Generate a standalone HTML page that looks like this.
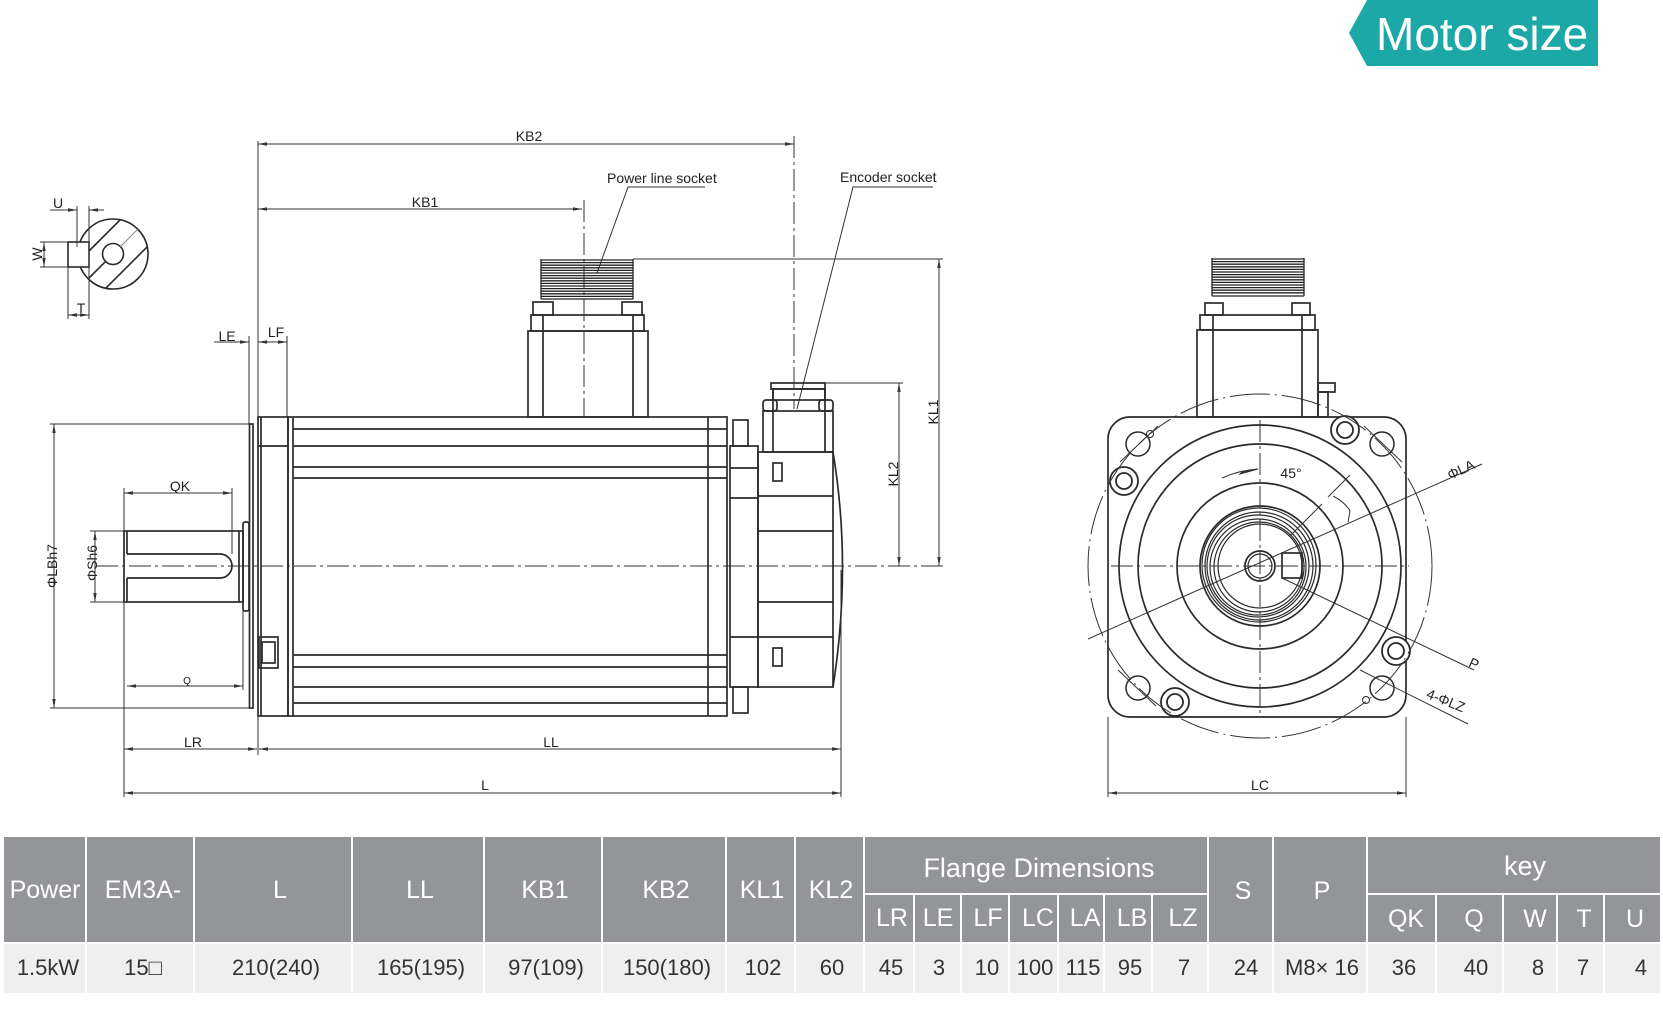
<!DOCTYPE html>
<html><head><meta charset="utf-8"><style>
html,body{margin:0;padding:0;background:#fff;}
svg{display:block;}
</style></head><body>
<svg width="1663" height="1010" viewBox="0 0 1663 1010" xmlns="http://www.w3.org/2000/svg" font-family="Liberation Sans, Arial, sans-serif">
<defs>
<marker id="a" markerWidth="9" markerHeight="6" refX="9" refY="3" orient="auto-start-reverse" markerUnits="userSpaceOnUse"><path d="M0,1.3 L9,3 L0,4.7 Z" fill="#333"/></marker>
</defs>

<!-- Title tag -->
<polygon points="1367,0 1598,0 1598,66 1367,66 1349,33" fill="#1ba8a6"/>
<text x="1376" y="50" font-size="46" fill="#fff">Motor size</text>

<!-- ============ KEY SECTION DETAIL ============ -->
<g stroke="#2a2a2a" fill="none" stroke-width="1.6">
  <circle cx="113" cy="254" r="35"/>
  <circle cx="113" cy="254" r="10.5"/>
  <rect x="68" y="242" width="21" height="25" fill="#fff"/>
  <line x1="89" y1="251" x2="120.2" y2="219.8"/>
  <line x1="89" y1="278" x2="105.6" y2="261.4"/>
  <line x1="120.4" y1="246.6" x2="137.7" y2="229.3" stroke="#888" stroke-width="1"/>
  <line x1="105.7" y1="288.3" x2="147.2" y2="246.8"/>
</g>
<g stroke="#333" stroke-width="1" fill="none">
  <line x1="77" y1="206" x2="77" y2="247"/>
  <line x1="89" y1="206" x2="89" y2="319"/>
  <line x1="68" y1="267" x2="68" y2="319"/>
  <line x1="50" y1="210" x2="77" y2="210" marker-end="url(#a)"/>
  <line x1="104" y1="210" x2="89" y2="210" marker-end="url(#a)"/>
  <line x1="40" y1="242" x2="68" y2="242"/>
  <line x1="40" y1="267" x2="68" y2="267"/>
  <line x1="44" y1="242" x2="44" y2="267" marker-start="url(#a)" marker-end="url(#a)"/>
  <line x1="68" y1="315" x2="89" y2="315" marker-start="url(#a)" marker-end="url(#a)"/>
</g>
<g font-size="14" fill="#222">
  <text x="58" y="208" text-anchor="middle">U</text>
  <text x="81" y="313" text-anchor="middle">T</text>
  <text transform="translate(42,254) rotate(-90)" text-anchor="middle">W</text>
</g>

<!-- ============ SIDE VIEW ============ -->
<!-- dimension / extension lines -->
<g stroke="#333" stroke-width="1" fill="none">
  <line x1="258" y1="141" x2="258" y2="755"/>
  <line x1="258" y1="144" x2="794" y2="144" marker-start="url(#a)" marker-end="url(#a)"/>
  <line x1="258" y1="209" x2="582" y2="209" marker-start="url(#a)" marker-end="url(#a)"/>
  <line x1="794" y1="136" x2="794" y2="409" stroke-dasharray="22 4 3 4"/>
  <line x1="584" y1="200" x2="584" y2="417" stroke-dasharray="22 4 3 4"/>
  <!-- LE LF -->
  <line x1="249" y1="336" x2="249" y2="424"/>
  <line x1="287" y1="336" x2="287" y2="417"/>
  <line x1="214" y1="342" x2="249" y2="342" marker-end="url(#a)"/>
  <line x1="258" y1="342" x2="287" y2="342" marker-start="url(#a)" marker-end="url(#a)"/>
  <!-- LB -->
  <line x1="50" y1="424" x2="250" y2="424"/>
  <line x1="50" y1="708" x2="250" y2="708"/>
  <line x1="54" y1="424" x2="54" y2="708" marker-start="url(#a)" marker-end="url(#a)"/>
  <!-- Sh6 -->
  <line x1="90" y1="531" x2="124" y2="531"/>
  <line x1="90" y1="602" x2="124" y2="602"/>
  <line x1="95" y1="531" x2="95" y2="602" marker-start="url(#a)" marker-end="url(#a)"/>
  <!-- QK -->
  <line x1="124" y1="488" x2="124" y2="797"/>
  <line x1="232" y1="488" x2="232" y2="554"/>
  <line x1="124" y1="493" x2="232" y2="493" marker-start="url(#a)" marker-end="url(#a)"/>
  <!-- Q -->
  <line x1="243" y1="602" x2="243" y2="690"/>
  <line x1="127" y1="686" x2="243" y2="686" marker-start="url(#a)" marker-end="url(#a)"/>
  <!-- LR LL L -->
  <line x1="124" y1="749" x2="257" y2="749" marker-start="url(#a)" marker-end="url(#a)"/>
  <line x1="259" y1="749" x2="841" y2="749" marker-start="url(#a)" marker-end="url(#a)"/>
  <line x1="124" y1="793" x2="841" y2="793" marker-start="url(#a)" marker-end="url(#a)"/>
  <line x1="841" y1="570" x2="841" y2="797"/>
  <!-- KL1 KL2 -->
  <line x1="633" y1="259" x2="943" y2="259"/>
  <line x1="939" y1="259" x2="939" y2="566" marker-start="url(#a)" marker-end="url(#a)"/>
  <line x1="825" y1="383" x2="903" y2="383"/>
  <line x1="899" y1="383" x2="899" y2="566" marker-start="url(#a)" marker-end="url(#a)"/>
  <!-- centerline -->
  <line x1="96" y1="566" x2="945" y2="566" stroke-dasharray="22 4 3 4"/>
  <!-- leaders -->
  <polyline points="705,187 628,187 597,273"/>
  <polyline points="933,187 853,187 797,409"/>
</g>

<!-- outlines -->
<g stroke="#2a2a2a" stroke-width="1.7" fill="none">
  <!-- thin plate -->
  <rect x="249.5" y="424" width="3.5" height="284"/>
  <!-- flange -->
  <rect x="258" y="417" width="30" height="299"/>
  <line x1="261" y1="417" x2="261" y2="716"/>
  <line x1="258" y1="446" x2="288" y2="446"/>
  <rect x="259" y="637" width="19" height="31"/>
  <rect x="262" y="642" width="13" height="21"/>
  <!-- body -->
  <rect x="288" y="417" width="439" height="299"/>
  <line x1="293" y1="417" x2="293" y2="716"/>
  <line x1="708" y1="417" x2="708" y2="716"/>
  <line x1="293" y1="429" x2="727" y2="429"/>
  <line x1="293" y1="446" x2="727" y2="446"/>
  <line x1="293" y1="467" x2="727" y2="467"/>
  <line x1="293" y1="478" x2="727" y2="478"/>
  <line x1="293" y1="655" x2="727" y2="655"/>
  <line x1="293" y1="667" x2="727" y2="667"/>
  <line x1="293" y1="687" x2="727" y2="687"/>
  <line x1="293" y1="703" x2="727" y2="703"/>
  <!-- shaft -->
  <rect x="124" y="531" width="119" height="71"/>
  <line x1="127" y1="531" x2="127" y2="554"/>
  <line x1="127" y1="578" x2="127" y2="602"/>
  <path d="M127,554 H220 A12,12 0 0 1 220,578 H127"/>
  <line x1="239" y1="531" x2="239" y2="602"/>
  <rect x="243" y="522" width="6" height="89" rx="2"/>
  <!-- power connector -->
  <rect x="528" y="331" width="120" height="86"/>
  <line x1="543" y1="315" x2="543" y2="417"/>
  <line x1="633" y1="315" x2="633" y2="417"/>
  <rect x="531" y="315" width="113" height="16"/>
  <rect x="533" y="302" width="20" height="13"/>
  <rect x="622" y="302" width="20" height="13"/>
  <!-- rear cover -->
  <rect x="730" y="446" width="28" height="241"/>
  <rect x="733" y="420" width="15" height="26"/>
  <rect x="733" y="687" width="15" height="26"/>
  <line x1="730" y1="468" x2="758" y2="468"/>
  <line x1="730" y1="498" x2="758" y2="498"/>
  <line x1="730" y1="637" x2="758" y2="637"/>
  <!-- encoder -->
  <rect x="758" y="452" width="75" height="235"/>
  <path d="M833,452 Q852,566 833,687"/>
  <line x1="758" y1="496" x2="833" y2="496"/>
  <line x1="758" y1="531" x2="833" y2="531"/>
  <line x1="758" y1="602" x2="833" y2="602"/>
  <line x1="758" y1="637" x2="833" y2="637"/>
  <rect x="773" y="463" width="9" height="18"/>
  <rect x="773" y="648" width="9" height="18"/>
  <rect x="763" y="411" width="70" height="41"/>
  <line x1="773" y1="389" x2="773" y2="452"/>
  <line x1="825" y1="389" x2="825" y2="452"/>
  <rect x="773" y="389" width="52" height="11"/>
  <rect x="771" y="383" width="54" height="6"/>
  <rect x="763" y="400" width="14" height="11" rx="3"/>
  <rect x="819" y="400" width="14" height="11" rx="3"/>
</g>
<!-- thread -->
<g stroke="#222" stroke-width="1.3">
  <line x1="541" y1="260" x2="633" y2="260"/><line x1="541" y1="262.6" x2="633" y2="262.6"/>
  <line x1="541" y1="265.2" x2="633" y2="265.2"/><line x1="541" y1="267.8" x2="633" y2="267.8"/>
  <line x1="541" y1="270.4" x2="633" y2="270.4"/><line x1="541" y1="273" x2="633" y2="273"/>
  <line x1="541" y1="275.6" x2="633" y2="275.6"/><line x1="541" y1="278.2" x2="633" y2="278.2"/>
  <line x1="541" y1="280.8" x2="633" y2="280.8"/><line x1="541" y1="283.4" x2="633" y2="283.4"/>
  <line x1="541" y1="286" x2="633" y2="286"/><line x1="541" y1="288.6" x2="633" y2="288.6"/>
  <line x1="541" y1="291.2" x2="633" y2="291.2"/><line x1="541" y1="293.8" x2="633" y2="293.8"/>
  <line x1="541" y1="296.4" x2="633" y2="296.4"/><line x1="541" y1="299" x2="633" y2="299"/>
  <line x1="541" y1="259" x2="541" y2="299"/><line x1="633" y1="259" x2="633" y2="299"/>
</g>

<g font-size="14" fill="#222">
  <text x="529" y="141" text-anchor="middle">KB2</text>
  <text x="425" y="207" text-anchor="middle">KB1</text>
  <text x="227" y="341" text-anchor="middle">LE</text>
  <text x="276" y="337" text-anchor="middle">LF</text>
  <text x="180" y="491" text-anchor="middle">QK</text>
  <text x="187" y="684" text-anchor="middle" font-size="10">Q</text>
  <text x="193" y="747" text-anchor="middle">LR</text>
  <text x="551" y="747" text-anchor="middle">LL</text>
  <text x="485" y="790" text-anchor="middle">L</text>
  <text x="607" y="183">Power line socket</text>
  <text x="840" y="182">Encoder socket</text>
  <text transform="translate(938,412) rotate(-90)" text-anchor="middle">KL1</text>
  <text transform="translate(898,474) rotate(-90)" text-anchor="middle">KL2</text>
  <text transform="translate(57,566) rotate(-90)" text-anchor="middle">ΦLBh7</text>
  <text transform="translate(97,563) rotate(-90)" text-anchor="middle">ΦSh6</text>
</g>

<!-- ============ END VIEW ============ -->
<g stroke="#2a2a2a" stroke-width="1.7" fill="none">
  <!-- connector -->
  <rect x="1197" y="330" width="121" height="87"/>
  <line x1="1213" y1="315" x2="1213" y2="417"/>
  <line x1="1302" y1="315" x2="1302" y2="417"/>
  <rect x="1200" y="315" width="115" height="15"/>
  <rect x="1205" y="303" width="18" height="12"/>
  <rect x="1292" y="303" width="18" height="12"/>
  <rect x="1318" y="383" width="17" height="9"/>
  <rect x="1318" y="392" width="10" height="25"/>
  <!-- flange square -->
  <rect x="1108" y="417" width="298" height="300" rx="22"/>
  <circle cx="1260" cy="566" r="141"/>
  <circle cx="1260" cy="566" r="122"/>
  <circle cx="1260" cy="566" r="83"/>
  <circle cx="1260" cy="566" r="60"/>
  <circle cx="1260" cy="566" r="15"/>
  <rect x="1282" y="553" width="20" height="25"/>
</g>
<g stroke="#2a2a2a" stroke-width="1.2" fill="none">
  <circle cx="1259" cy="565" r="57"/>
  <circle cx="1259" cy="566" r="54"/>
  <circle cx="1258" cy="566" r="51"/>
  <circle cx="1258" cy="567" r="48"/>
  <circle cx="1259" cy="567" r="45"/>
  <circle cx="1260" cy="566" r="42"/>
  <circle cx="1260" cy="566" r="12"/>
</g>
<g stroke="#2a2a2a" stroke-width="1.8" fill="#fff">
  <!-- screws -->
  <circle cx="1396" cy="651" r="14"/><circle cx="1396" cy="651" r="8"/>
  <circle cx="1175" cy="702" r="14"/><circle cx="1175" cy="702" r="8"/>
  <circle cx="1124" cy="481" r="14"/><circle cx="1124" cy="481" r="8"/>
  <circle cx="1345" cy="430" r="14"/><circle cx="1345" cy="430" r="8"/>
</g>
<g stroke="#2a2a2a" stroke-width="1.5" fill="none">
  <!-- bolt holes -->
  <circle cx="1138" cy="444" r="12"/>
  <circle cx="1382" cy="444" r="12"/>
  <circle cx="1138" cy="688" r="12"/>
  <circle cx="1382" cy="688" r="12"/>
  <circle cx="1150" cy="434" r="3.5" stroke-width="1"/>
  <circle cx="1366" cy="700" r="3.5" stroke-width="1"/>
</g>
<g stroke="#333" stroke-width="1" fill="none">
  <circle cx="1260" cy="566" r="172" stroke-dasharray="40 5 2 5"/>
  <line x1="1111" y1="566" x2="1409" y2="566" stroke-dasharray="22 4 3 4"/>
  <line x1="1260" y1="420" x2="1260" y2="716" stroke-dasharray="22 4 3 4"/>
  <line x1="1120" y1="462" x2="1158" y2="426"/>
  <line x1="1364" y1="426" x2="1402" y2="462"/>
  <line x1="1118" y1="670" x2="1156" y2="706"/>
  <!-- ΦLA leader -->
  <line x1="1088" y1="639" x2="1482" y2="464"/>
  <!-- P leader -->
  <line x1="1282" y1="578" x2="1474" y2="670"/>
  <!-- 4-ΦLZ leader -->
  <line x1="1360" y1="670" x2="1468" y2="724"/>
  <!-- 45 deg markers -->
  <path d="M1222,478 Q1240,470 1258,469"/>
  <path d="M1240,474 L1258,469 L1242,472 Z" fill="#333"/>
  <line x1="1290" y1="536" x2="1322" y2="504"/>
  <line x1="1328" y1="497" x2="1350" y2="475"/>
  <path d="M1333,496 Q1345,502 1350,511 L1348,522"/>
  <!-- LC -->
  <line x1="1108" y1="717" x2="1108" y2="797"/>
  <line x1="1406" y1="717" x2="1406" y2="797"/>
  <line x1="1108" y1="793" x2="1406" y2="793" marker-start="url(#a)" marker-end="url(#a)"/>
</g>
<!-- thread right -->
<g stroke="#222" stroke-width="1.3">
  <line x1="1212" y1="259" x2="1304" y2="259"/><line x1="1212" y1="261.6" x2="1304" y2="261.6"/>
  <line x1="1212" y1="264.2" x2="1304" y2="264.2"/><line x1="1212" y1="266.8" x2="1304" y2="266.8"/>
  <line x1="1212" y1="269.4" x2="1304" y2="269.4"/><line x1="1212" y1="272" x2="1304" y2="272"/>
  <line x1="1212" y1="274.6" x2="1304" y2="274.6"/><line x1="1212" y1="277.2" x2="1304" y2="277.2"/>
  <line x1="1212" y1="279.8" x2="1304" y2="279.8"/><line x1="1212" y1="282.4" x2="1304" y2="282.4"/>
  <line x1="1212" y1="285" x2="1304" y2="285"/><line x1="1212" y1="287.6" x2="1304" y2="287.6"/>
  <line x1="1212" y1="290.2" x2="1304" y2="290.2"/><line x1="1212" y1="292.8" x2="1304" y2="292.8"/>
  <line x1="1212" y1="296" x2="1304" y2="296"/>
  <line x1="1212" y1="258" x2="1212" y2="296"/><line x1="1304" y1="258" x2="1304" y2="296"/>
</g>
<g font-size="14" fill="#222">
  <text x="1291" y="478" text-anchor="middle">45°</text>
  <text x="1260" y="790" text-anchor="middle">LC</text>
  <text transform="translate(1463,474) rotate(-25)" text-anchor="middle">ΦLA</text>
  <text transform="translate(1472,668) rotate(25)" text-anchor="middle">P</text>
  <text transform="translate(1444,705) rotate(22)" text-anchor="middle">4-ΦLZ</text>
</g>

<!-- ============ TABLE ============ -->
<g fill="#939598">
  <rect x="4" y="837" width="81" height="105"/>
  <rect x="87" y="837" width="106" height="105"/>
  <rect x="195" y="837" width="156" height="105"/>
  <rect x="353" y="837" width="130" height="105"/>
  <rect x="485" y="837" width="116" height="105"/>
  <rect x="603" y="837" width="122" height="105"/>
  <rect x="727" y="837" width="67" height="105"/>
  <rect x="796" y="837" width="67" height="105"/>
  <rect x="865" y="837" width="342" height="56"/>
  <rect x="865" y="895" width="48" height="47"/>
  <rect x="915" y="895" width="45" height="47"/>
  <rect x="962" y="895" width="46" height="47"/>
  <rect x="1010" y="895" width="47" height="47"/>
  <rect x="1059" y="895" width="44" height="47"/>
  <rect x="1105" y="895" width="46" height="47"/>
  <rect x="1153" y="895" width="54" height="47"/>
  <rect x="1209" y="837" width="63" height="105"/>
  <rect x="1274" y="837" width="92" height="105"/>
  <rect x="1368" y="837" width="292" height="56"/>
  <rect x="1368" y="895" width="67" height="47"/>
  <rect x="1437" y="895" width="65" height="47"/>
  <rect x="1504" y="895" width="52" height="47"/>
  <rect x="1558" y="895" width="45" height="47"/>
  <rect x="1605" y="895" width="55" height="47"/>
</g>
<g fill="#efefef">
  <rect x="4" y="944" width="81" height="49"/>
  <rect x="87" y="944" width="106" height="49"/>
  <rect x="195" y="944" width="156" height="49"/>
  <rect x="353" y="944" width="130" height="49"/>
  <rect x="485" y="944" width="116" height="49"/>
  <rect x="603" y="944" width="122" height="49"/>
  <rect x="727" y="944" width="67" height="49"/>
  <rect x="796" y="944" width="67" height="49"/>
  <rect x="865" y="944" width="48" height="49"/>
  <rect x="915" y="944" width="45" height="49"/>
  <rect x="962" y="944" width="46" height="49"/>
  <rect x="1010" y="944" width="47" height="49"/>
  <rect x="1059" y="944" width="44" height="49"/>
  <rect x="1105" y="944" width="46" height="49"/>
  <rect x="1153" y="944" width="54" height="49"/>
  <rect x="1209" y="944" width="63" height="49"/>
  <rect x="1274" y="944" width="92" height="49"/>
  <rect x="1368" y="944" width="67" height="49"/>
  <rect x="1437" y="944" width="65" height="49"/>
  <rect x="1504" y="944" width="52" height="49"/>
  <rect x="1558" y="944" width="45" height="49"/>
  <rect x="1605" y="944" width="55" height="49"/>
</g>
<g fill="#fff" font-size="25" text-anchor="middle">
  <text x="45" y="898">Power</text>
  <text x="143" y="898">EM3A-</text>
  <text x="280" y="898">L</text>
  <text x="420" y="898">LL</text>
  <text x="545" y="898">KB1</text>
  <text x="666" y="898">KB2</text>
  <text x="762" y="898">KL1</text>
  <text x="831" y="898">KL2</text>
  <text x="1243" y="899">S</text>
  <text x="1322" y="899">P</text>
  <text x="1039" y="877" font-size="27">Flange Dimensions</text>
  <text x="1525" y="875" font-size="27">key</text>
  <text x="892" y="926">LR</text>
  <text x="938" y="926">LE</text>
  <text x="988" y="926">LF</text>
  <text x="1038" y="926">LC</text>
  <text x="1085" y="926">LA</text>
  <text x="1132" y="926">LB</text>
  <text x="1183" y="926">LZ</text>
  <text x="1406" y="927">QK</text>
  <text x="1474" y="927">Q</text>
  <text x="1535" y="927">W</text>
  <text x="1584" y="927">T</text>
  <text x="1635" y="927">U</text>
</g>
<g fill="#333" font-size="22" text-anchor="middle">
  <text x="48" y="975">1.5kW</text>
  <text x="143" y="975">15□</text>
  <text x="276" y="975">210(240)</text>
  <text x="421" y="975">165(195)</text>
  <text x="546" y="975">97(109)</text>
  <text x="667" y="975">150(180)</text>
  <text x="763" y="975">102</text>
  <text x="832" y="975">60</text>
  <text x="891" y="975">45</text>
  <text x="939" y="975">3</text>
  <text x="987" y="975">10</text>
  <text x="1035" y="975">100</text>
  <text x="1083" y="975">115</text>
  <text x="1130" y="975">95</text>
  <text x="1184" y="975">7</text>
  <text x="1246" y="975">24</text>
  <text x="1322" y="975">M8× 16</text>
  <text x="1404" y="975">36</text>
  <text x="1476" y="975">40</text>
  <text x="1538" y="975">8</text>
  <text x="1583" y="975">7</text>
  <text x="1641" y="975">4</text>
</g>
</svg>
</body></html>
